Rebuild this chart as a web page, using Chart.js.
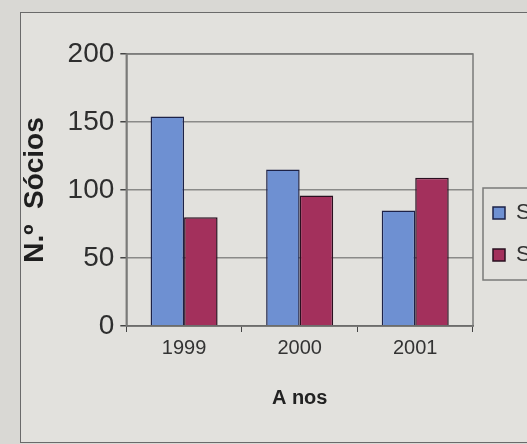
<!DOCTYPE html>
<html>
<head>
<meta charset="utf-8">
<script src="https://cdn.jsdelivr.net/npm/chart.js@4/dist/chart.umd.min.js"></script>
<style>
    html, body { margin: 0; padding: 0; width: 527px; height: 444px; overflow: hidden; background: #d9d8d4; }
    #frame { position: absolute; left: 20px; top: 12px; width: 600px; height: 429px; border: 1.5px solid #6a6a6a; background: #e2e1dd; }
    #wrap { position: absolute; left: 0; top: 0; width: 626px; height: 444px; }
</style>
</head>
<body>
<div id="frame"></div>
<div id="wrap"><canvas id="socChart"></canvas></div>
<script>
// Sócios por ano
const years = ['1999', '2000', '2001'];
const seriesNames = ['Sócios Homens', 'Sócios Mulheres'];
const socios1 = [154, 115, 85];
const socios2 = [80, 96, 109];
const yTicks = [0, 50, 100, 150, 200];

// border round the plot and round the legend
const boxes = {
    id: 'boxes',
    afterDraw(chart) {
        const ctx = chart.ctx;
        const area = chart.chartArea;
        const hits = chart.legend.legendHitBoxes;
        ctx.save();
        ctx.strokeStyle = '#7a7a78';
        ctx.lineWidth = 1.5;
        ctx.strokeRect(area.left, area.top, area.right - area.left, area.bottom - area.top);
        if (hits.length) {
            const top = hits[0].top - 14;
            const bottom = hits[hits.length - 1].top + hits[hits.length - 1].height + 14;
            ctx.strokeRect(area.right + 10, top, 300, bottom - top);
        }
        ctx.restore();
    }
};

const ctx = document.getElementById('socChart');
const socChart = new Chart(ctx, {
    type: 'bar',
    data: {
        labels: years,
        datasets: [{
            label: seriesNames[0],
            data: socios1,
            backgroundColor: '#6e90d2',
            borderColor: '#1d2248',
            borderWidth: 1.5,
            barPercentage: 1,
            categoryPercentage: 0.58
        }, {
            label: seriesNames[1],
            data: socios2,
            backgroundColor: '#a3305c',
            borderColor: '#2a1020',
            borderWidth: 1.5,
            barPercentage: 1,
            categoryPercentage: 0.58
        }]
    },
    plugins: [boxes],
    options: {
        responsive: true,
        maintainAspectRatio: false,
        animation: false,
        layout: {
            padding: { top: 54, left: 14, right: 0, bottom: 30 }
        },
        plugins: {
            legend: {
                position: 'right',
                labels: {
                    boxWidth: 12,
                    boxHeight: 12,
                    padding: 20,
                    color: '#333',
                    font: { family: 'Liberation Sans', size: 22 }
                }
            },
            tooltip: { enabled: false }
        },
        scales: {
            y: {
                min: 0,
                max: 200,
                afterBuildTicks: (axis) => { axis.ticks = yTicks.map(v => ({ value: v })); },
                border: { color: '#444', width: 1.5 },
                grid: { color: '#8a8a88', lineWidth: 1.5, tickLength: 6, tickColor: '#444' },
                ticks: {
                    color: '#2e2e2e',
                    padding: 6,
                    font: { family: 'Liberation Sans', size: 28 }
                },
                title: {
                    display: true,
                    text: 'N.º  Sócios',
                    color: '#1e1e1e',
                    padding: { top: 4, bottom: 10 },
                    font: { family: 'Liberation Sans', size: 28, weight: 'bold' }
                }
            },
            x: {
                border: { color: '#444', width: 1.5 },
                grid: { offset: true, drawOnChartArea: false, tickLength: 6, tickColor: '#444' },
                ticks: {
                    color: '#333',
                    padding: 4,
                    font: { family: 'Liberation Sans', size: 20 }
                },
                title: {
                    display: true,
                    text: 'A nos',
                    color: '#222',
                    padding: { top: 22, bottom: 4 },
                    font: { family: 'Liberation Sans', size: 20, weight: 'bold' }
                }
            }
        }
    }
});
</script>
</body>
</html>
